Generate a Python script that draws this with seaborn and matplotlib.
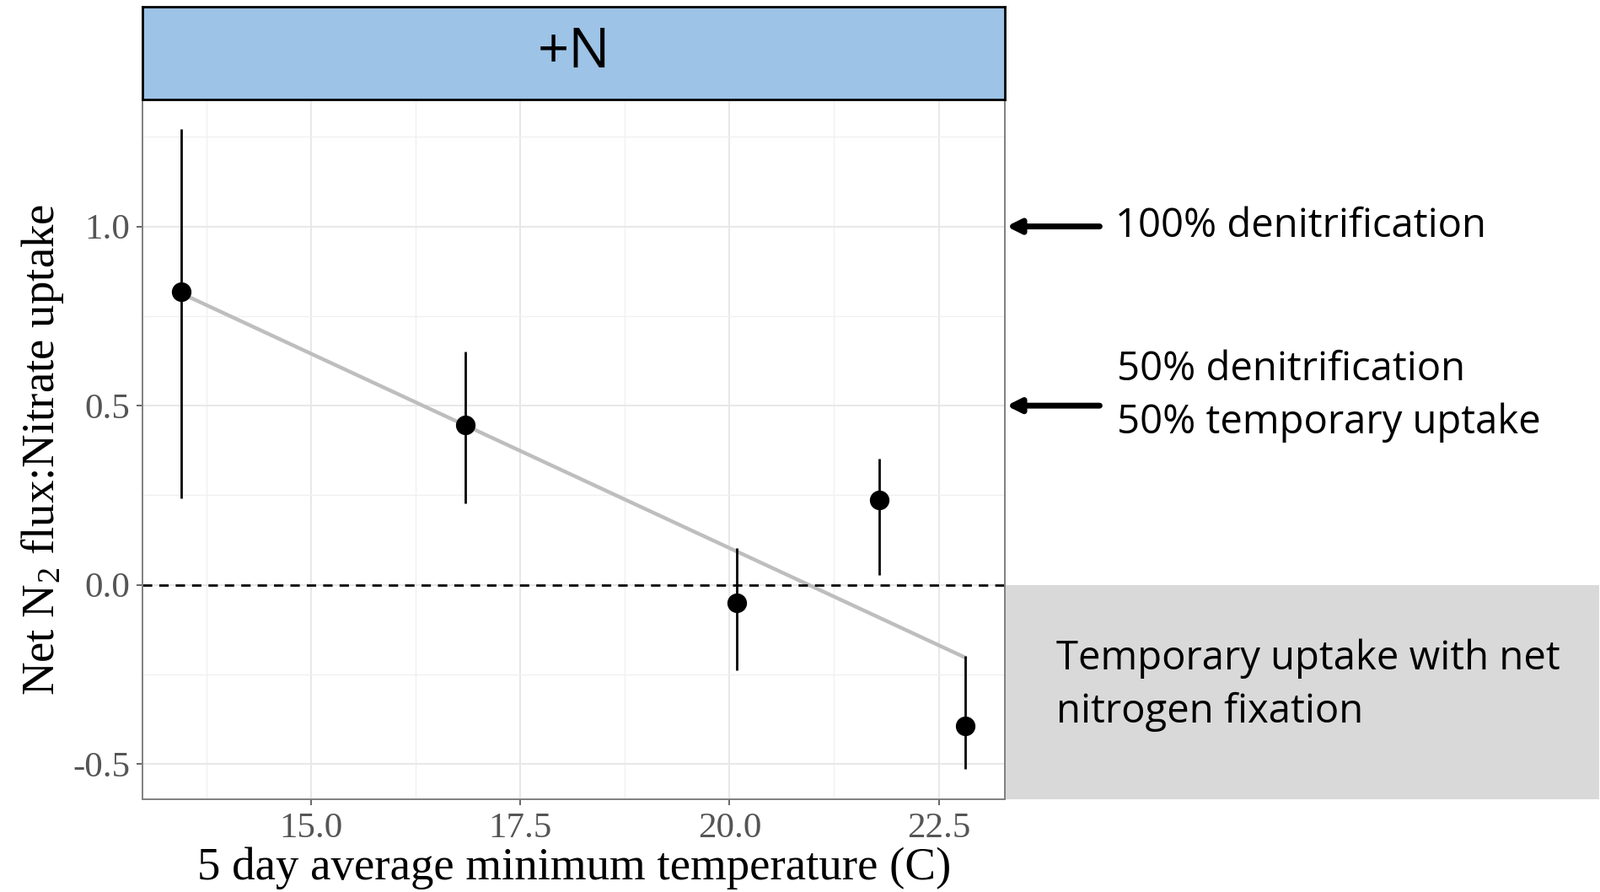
import numpy as np
import pandas as pd
import matplotlib
matplotlib.use("Agg")
import matplotlib.pyplot as plt
from matplotlib.patches import Rectangle
from matplotlib.ticker import MultipleLocator
import seaborn as sns

# values
temperature = [13.45, 16.84, 20.09, 21.79, 22.82]
ratio = [0.818, 0.447, -0.051, 0.236, -0.393]
ratio_low = [0.242, 0.228, -0.239, 0.028, -0.513]
ratio_high = [1.271, 0.650, 0.103, 0.353, -0.199]
x_ticks = [15.0, 17.5, 20.0, 22.5]
y_ticks = [-0.5, 0.0, 0.5, 1.0]
facet_label = "+N"

df = pd.DataFrame({"temp": temperature, "ratio": ratio,
                   "low": ratio_low, "high": ratio_high})

sns.set_theme(style="whitegrid")
plt.rcParams['font.family'] = ['Liberation Serif', 'DejaVu Serif']
plt.rcParams['mathtext.fontset'] = 'custom'
plt.rcParams['mathtext.rm'] = 'Liberation Serif'
plt.rcParams['mathtext.it'] = 'Liberation Serif:italic'

fig = plt.figure(figsize=(18.98, 10.58), dpi=100)
ax = fig.add_axes([0.0893, 0.104, 0.5387, 0.784])
strip = fig.add_axes([0.0893, 0.888, 0.5387, 0.104])

# main panel
ax.set_facecolor("white")
ax.vlines(df["temp"], df["low"], df["high"], color="black", lw=2, zorder=3)
sns.regplot(data=df, x="temp", y="ratio", scatter=False, ci=None, ax=ax,
            line_kws={"color": "#BEBEBE", "lw": 3.2, "zorder": 2})
sns.scatterplot(data=df, x="temp", y="ratio", ax=ax, color="black", s=240,
                edgecolor="black", zorder=4, legend=False)
ax.axhline(0, color="black", ls=(0, (4, 3)), lw=2, zorder=2)

ax.set_xlim(12.99, 23.29)
ax.set_ylim(-0.598, 1.353)
ax.set_xticks(x_ticks)
ax.set_yticks(y_ticks)
ax.set_xticklabels([f"{t:.1f}" for t in x_ticks])
ax.set_yticklabels([f"{t:.1f}" for t in y_ticks])
ax.xaxis.set_minor_locator(MultipleLocator(1.25))
ax.yaxis.set_minor_locator(MultipleLocator(0.25))
ax.grid(which="major", color="#E8E8E8", lw=1.5)
ax.grid(which="minor", color="#F0F0F0", lw=1.0)
ax.tick_params(axis="both", which="major", labelsize=31, labelcolor="#555555",
               color="#4D4D4D", length=5, width=1.2, direction="out",
               bottom=True, left=True, pad=6)
ax.tick_params(which="minor", length=0)
for s in ax.spines.values():
    s.set_color("#7F7F7F")
    s.set_linewidth(1.4)

ax.set_xlabel("5 day average minimum temperature (C)", fontsize=39.5,
              color="black", labelpad=2)
ax.set_ylabel(r"Net N$_\mathrm{2}$ flux:Nitrate uptake", fontsize=39.5,
              color="black", labelpad=6)

# facet strip
strip.set_facecolor("#9DC3E6")
strip.set_xticks([])
strip.set_yticks([])
strip.grid(False)
for s in strip.spines.values():
    s.set_color("black")
    s.set_linewidth(2)
strip.text(0.5, 0.5, facet_label, ha="center", va="center", fontsize=47,
           family=["Open Sans", "DejaVu Sans"], color="black")

# annotations on the right
yt = ax.get_yaxis_transform()
ann_font = ["Open Sans", "DejaVu Sans"]
box = Rectangle((1.0, -0.598), 0.69, 0.598, transform=yt, clip_on=False,
                facecolor="#D9D9D9", edgecolor="none", zorder=0)
ax.add_patch(box)

for yv in [1.0, 0.5]:
    ax.annotate("", xy=(1.002, yv), xycoords=yt, xytext=(1.11, yv),
                textcoords=yt,
                arrowprops=dict(arrowstyle="-|>,head_length=0.8,head_width=0.4",
                                color="black", lw=5, shrinkA=0, shrinkB=0))

ax.text(1.128, 1.0, "100% denitrification", transform=yt, ha="left",
        va="center", fontsize=34, family=ann_font, color="black")
ax.text(1.13, 0.601, "50% denitrification", transform=yt, ha="left",
        va="center", fontsize=34, family=ann_font, color="black")
ax.text(1.13, 0.453, "50% temporary uptake", transform=yt, ha="left",
        va="center", fontsize=34, family=ann_font, color="black")
ax.text(1.06, -0.205, "Temporary uptake with net", transform=yt, ha="left",
        va="center", fontsize=34, family=ann_font, color="black")
ax.text(1.06, -0.353, "nitrogen fixation", transform=yt, ha="left",
        va="center", fontsize=34, family=ann_font, color="black")

fig.savefig("out.png", dpi=100)
